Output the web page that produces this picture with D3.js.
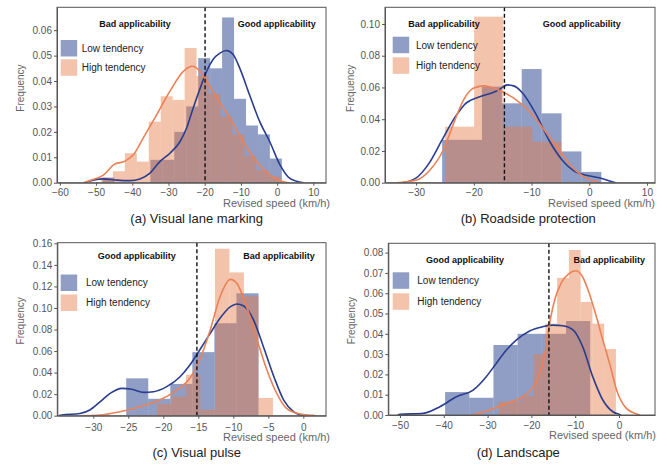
<!DOCTYPE html>
<html><head><meta charset="utf-8">
<script src="https://cdn.jsdelivr.net/npm/d3@7"></script>
<style>
body{margin:0;background:#fff}
svg{display:block;font-family:"Liberation Sans",Arial,sans-serif}
</style>
</head><body>
<svg id="chart" width="667" height="465"></svg>
<script>
// ---------- DATA ----------
const seriesNames = ["Low tendency", "High tendency"];
const leftLabels = ["Bad applicability", "Bad applicability", "Good applicability", "Good applicability"];
const rightLabels = ["Good applicability", "Good applicability", "Bad applicability", "Bad applicability"];
const captions = ["(a) Visual lane marking", "(b) Roadside protection", "(c) Visual pulse", "(d) Landscape"];
const thresholds = [-19.9, -14.7, -15.2, -16.0];

// (a) Visual lane marking
const aXTicks = [-60, -50, -40, -30, -20, -10, 0, 10];
const aYTicks = [0, 0.01, 0.02, 0.03, 0.04, 0.05, 0.06];
const aLowEdges = [-48.2, -44.9, -41.6, -38.3, -35.0, -31.7, -28.4, -25.1, -21.8, -18.5, -15.2, -11.9, -8.6, -5.3, -2.0, 1.3];
const aLowFreq = [0.002, 0, 0, 0, 0.009, 0.009, 0.020, 0.030, 0.049, 0.045, 0.065, 0.033, 0.0225, 0.019, 0.0095];
const aHighEdges = [-48.65, -45.35, -42.05, -38.75, -35.45, -32.15, -28.85, -25.55, -22.25, -18.95, -15.65, -12.35, -9.05, -5.75, -2.45, 0.85];
const aHighFreq = [0.002, 0.0045, 0.0116, 0.0083, 0.024, 0.034, 0.0326, 0.053, 0.042, 0.035, 0.026, 0.019, 0.0105, 0.005, 0.0025];
const aLowKde = [[-53,0],[-51.7,0.0007],[-48,0.0015],[-44.3,0.001],[-40.6,0.0008],[-37.9,0.0015],[-35.2,0.0037],[-32.4,0.0083],[-29.6,0.0116],[-26.9,0.016],[-25,0.0215],[-23.2,0.0293],[-21.3,0.037],[-19.5,0.0438],[-17.7,0.0485],[-15.8,0.051],[-14,0.052],[-12.2,0.0505],[-10.3,0.045],[-7.6,0.0345],[-4.8,0.024],[-2,0.016],[0.8,0.007],[3.5,0.0017],[7.3,0]];
const aHighKde = [[-53.5,0],[-51.5,0.001],[-48,0.003],[-45,0.0072],[-42,0.0085],[-39.7,0.011],[-37,0.0175],[-33.3,0.0267],[-29.6,0.036],[-25.9,0.0438],[-23.4,0.0458],[-21.3,0.0438],[-19.5,0.040],[-16.7,0.0333],[-13,0.0254],[-9.4,0.0162],[-5.7,0.0083],[-2,0.003],[1.7,0.0004],[3,0]];

// (b) Roadside protection
const bXTicks = [-30, -20, -10, 0, 10];
const bYTicks = [0, 0.02, 0.04, 0.06, 0.08, 0.10];
const bLowEdges = [-25.5, -22.05, -18.6, -15.15, -11.7, -8.25, -4.8, -1.35, 2.1];
const bLowFreq = [0.027, 0.027, 0.0605, 0.050, 0.0716, 0.0437, 0.0197, 0.0068];
const bHighEdges = [-25.0, -19.95, -14.9, -9.85, -4.8];
const bHighFreq = [0.0353, 0.1046, 0.0353, 0.0258];
const bLowKde = [[-32.4,0],[-30.1,0.0027],[-27.8,0.012],[-25.5,0.027],[-23.2,0.0416],[-21.4,0.05],[-19.1,0.054],[-16.8,0.0567],[-15.7,0.0584],[-14.2,0.0616],[-13.1,0.061],[-11.6,0.0567],[-9.3,0.0437],[-7.0,0.0269],[-4.7,0.0143],[-2.4,0.0069],[-0.1,0.0044],[2.2,0.0027],[4.0,0.0006],[4.6,0]];
const bHighKde = [[-33.4,0],[-29.9,0.0017],[-27.6,0.008],[-25.3,0.0206],[-23.5,0.0374],[-21.8,0.052],[-20.1,0.0595],[-18.1,0.061],[-16.1,0.0588],[-14.3,0.0559],[-12.6,0.052],[-10.3,0.0447],[-8.0,0.0342],[-5.6,0.0227],[-3.3,0.0111],[-1.0,0.0038],[1.3,0.0006],[2,0]];

// (c) Visual pulse
const cXTicks = [-30, -25, -20, -15, -10, -5, 0];
const cYTicks = [0, 0.02, 0.04, 0.06, 0.08, 0.10, 0.12, 0.14, 0.16];
const cLowEdges = [-25.3, -22.15, -19.0, -15.85, -12.7, -9.55, -6.4];
const cLowFreq = [0.0347, 0.0157, 0.0295, 0.059, 0.0858, 0.1136];
const cHighEdges = [-20.9, -18.83, -16.76, -14.69, -12.62, -10.55, -8.48, -6.41, -4.34];
const cHighFreq = [0.011, 0.0178, 0.038, 0.0055, 0.155, 0.133, 0.111, 0.0165];
const cLowKde = [[-35,0],[-34.5,0.0006],[-31.9,0.002],[-30.5,0.0053],[-29.0,0.013],[-27.6,0.0207],[-25.9,0.0254],[-24.5,0.0245],[-22.8,0.0217],[-21.4,0.0223],[-19.5,0.027],[-17.6,0.0362],[-16.2,0.047],[-14.8,0.061],[-13.3,0.0764],[-11.9,0.0904],[-10.4,0.1012],[-9.5,0.1037],[-8.5,0.1018],[-7.1,0.0888],[-5.7,0.064],[-4.2,0.0362],[-2.8,0.0145],[-1.4,0.0037],[-0.45,0.0006],[0,0]];
const cHighKde = [[-31.9,0],[-29,0.0006],[-26.2,0.0037],[-23.3,0.0084],[-20.5,0.0145],[-18.1,0.0238],[-16.2,0.0347],[-14.8,0.0517],[-13.3,0.0795],[-11.9,0.1105],[-10.4,0.1266],[-9.5,0.1229],[-8.1,0.1012],[-6.6,0.0703],[-5.2,0.0424],[-3.8,0.0207],[-2.4,0.0068],[-0.45,0.0015],[1.4,0.0003],[1.8,0]];

// (d) Landscape
const dXTicks = [-50, -40, -30, -20, -10, 0];
const dYTicks = [0, 0.01, 0.02, 0.03, 0.04, 0.05, 0.06, 0.07, 0.08];
const dLowEdges = [-39.7, -34.18, -28.66, -23.14, -17.62, -12.1, -6.58];
const dLowFreq = [0.0113, 0.0085, 0.0345, 0.040, 0.040, 0.0463];
const dHighEdges = [-27.55, -24.87, -22.18, -19.5, -16.81, -14.13, -11.44, -8.76, -6.07, -3.39, -0.7];
const dHighFreq = [0.0066, 0.0066, 0.0095, 0.030, 0.045, 0.0676, 0.0813, 0.0557, 0.045, 0.0325];
const dLowKde = [[-50.5,0],[-50,0.0003],[-44.7,0.0008],[-40.9,0.0041],[-37.1,0.009],[-33.3,0.0123],[-30.3,0.0189],[-28.0,0.0255],[-25.7,0.032],[-23.4,0.037],[-20.4,0.0414],[-17.4,0.0435],[-15.1,0.0443],[-12.8,0.044],[-10.5,0.0419],[-8.3,0.0337],[-6.0,0.0189],[-3.7,0.0074],[-1.4,0.0016],[0.1,0.0003],[0.5,0]];
const dHighKde = [[-33.5,0],[-29.5,0.0025],[-25.7,0.0057],[-22.3,0.0085],[-19.6,0.014],[-18,0.021],[-16.8,0.032],[-15.6,0.048],[-14.5,0.058],[-13.2,0.065],[-11.5,0.0695],[-9.8,0.0711],[-8.3,0.068],[-6.8,0.06],[-5.3,0.0495],[-3.7,0.037],[-2.1,0.025],[-0.5,0.012],[1.6,0.0035],[4.3,0.0003],[4.8,0]];

// ---------- STYLE / LAYOUT ----------
const blueFill = "rgb(14,44,130)", orangeFill = "rgb(231,125,72)", barOpacity = 0.46;
const blueLine = "#2a3d8f", orangeLine = "#ea8257";

const panels = [
  {box:{l:57, r:326, t:7.3, b:182.7}, xd:[-60.8, 13.5], yd:[0, 0.069], xt:aXTicks, yt:aYTicks, pad:3.5,
   low:[aLowEdges, aLowFreq], high:[aHighEdges, aHighFreq], lowKde:aLowKde, highKde:aHighKde,
   titles:[[135,27.2],[276.7,27.2]], leg:{x:60.7, y1:40, y2:59.3, tx:81.7}, cap:[196.7,222.7], xt_end:[330,206.5], ylab:[20.7,88]},
  {box:{l:385, r:655, t:7.3, b:182.7}, xd:[-35.4, 11.4], yd:[0, 0.1105], xt:bXTicks, yt:bYTicks, pad:3.5,
   low:[bLowEdges, bLowFreq], high:[bHighEdges, bHighFreq], lowKde:bLowKde, highKde:bHighKde,
   titles:[[444,27.2],[581.7,27.2]], leg:{x:392.7, y1:36.7, y2:57.3, tx:416}, cap:[528.3,222.7], xt_end:[655,206.5], ylab:[350.7,88.3]},
  {box:{l:57.3, r:326, t:242.7, b:415.7}, xd:[-35.14, 3.24], yd:[0, 0.1606], xt:cXTicks, yt:cYTicks, pad:5,
   low:[cLowEdges, cLowFreq], high:[cHighEdges, cHighFreq], lowKde:cLowKde, highKde:cHighKde,
   titles:[[136.7,259.2],[279,259.2]], leg:{x:60.7, y1:274.5, y2:294.5, tx:86}, cap:[196.7,456.5], xt_end:[330,440.5], ylab:[20.7,320.8]},
  {box:{l:388.3, r:655, t:243.3, b:415}, xd:[-52.67, 8.22], yd:[0, 0.0846], xt:dXTicks, yt:dYTicks, pad:3.5,
   low:[dLowEdges, dLowFreq], high:[dHighEdges, dHighFreq], lowKde:dLowKde, highKde:dHighKde,
   titles:[[465,262.5],[609.3,262.5]], leg:{x:392.7, y1:272.3, y2:293.3, tx:417.3}, cap:[518.3,457], xt_end:[656,439], ylab:[351.7,320.7]}
];

const svg = d3.select("#chart");

panels.forEach((p, i) => {
  const B = p.box;
  const x = d3.scaleLinear().domain(p.xd).range([B.l, B.r]);
  const y = d3.scaleLinear().domain(p.yd).range([B.b, B.t]);
  const g = svg.append("g");
  const clipId = "clip" + i;
  svg.append("clipPath").attr("id", clipId).append("rect")
    .attr("x", B.l).attr("y", B.t).attr("width", B.r - B.l).attr("height", B.b - B.t);
  const plot = g.append("g").attr("clip-path", `url(#${clipId})`);

  function bars(edges, freq, color) {
    const data = freq.map((f, k) => ({x0: edges[k], x1: edges[k + 1], f}));
    plot.append("g").selectAll("rect").data(data.filter(d => d.f > 0)).join("rect")
      .attr("x", d => x(d.x0)).attr("width", d => x(d.x1) - x(d.x0))
      .attr("y", d => y(d.f)).attr("height", d => y(0) - y(d.f))
      .attr("fill", color).attr("fill-opacity", barOpacity);
  }
  bars(p.low[0], p.low[1], blueFill);
  bars(p.high[0], p.high[1], orangeFill);

  const line = d3.line().x(d => x(d[0])).y(d => y(d[1])).curve(d3.curveMonotoneX);
  plot.append("path").datum(p.lowKde).attr("d", line).attr("fill", "none").attr("stroke", blueLine).attr("stroke-width", 1.6);
  plot.append("path").datum(p.highKde).attr("d", line).attr("fill", "none").attr("stroke", orangeLine).attr("stroke-width", 1.6);

  // threshold
  g.append("line").attr("x1", x(thresholds[i])).attr("x2", x(thresholds[i]))
    .attr("y1", B.t).attr("y2", B.b).attr("stroke", "#111").attr("stroke-width", 1.4).attr("stroke-dasharray", "4,2.5");

  // frame
  g.append("rect").attr("x", B.l).attr("y", B.t).attr("width", B.r - B.l).attr("height", B.b - B.t)
    .attr("fill", "none").attr("stroke", "#555").attr("stroke-width", 1);

  // axes
  const xa = g.append("g").attr("transform", `translate(0,${B.b})`)
    .call(d3.axisBottom(x).tickValues(p.xt).tickFormat(d3.format("d")).tickSize(3).tickSizeOuter(0).tickPadding(p.pad));
  const ya = g.append("g").attr("transform", `translate(${B.l},0)`)
    .call(d3.axisLeft(y).tickValues(p.yt).tickFormat(d3.format(".2f")).tickSize(3).tickSizeOuter(0).tickPadding(2));
  [xa, ya].forEach(a => {
    a.select(".domain").attr("stroke", "#555");
    a.selectAll(".tick line").attr("stroke", "#555");
    a.selectAll(".tick text").attr("fill", "#555").attr("font-size", "10px").attr("font-family", "Liberation Sans, Arial, sans-serif");
  });

  // axis titles
  g.append("text").attr("x", p.xt_end[0]).attr("y", p.xt_end[1]).attr("text-anchor", "end")
    .attr("font-size", "11px").attr("fill", "#666").text("Revised speed (km/h)");
  g.append("text").attr("transform", `translate(${p.ylab[0] + 3.5},${p.ylab[1]}) rotate(-90)`).attr("text-anchor", "middle")
    .attr("font-size", "10px").attr("fill", "#666").text("Frequency");

  // region titles
  g.append("text").attr("x", p.titles[0][0]).attr("y", p.titles[0][1]).attr("text-anchor", "middle")
    .attr("font-size", "9px").attr("font-weight", "bold").attr("fill", "#111").text(leftLabels[i]);
  g.append("text").attr("x", p.titles[1][0]).attr("y", p.titles[1][1]).attr("text-anchor", "middle")
    .attr("font-size", "9px").attr("font-weight", "bold").attr("fill", "#111").text(rightLabels[i]);

  // legend
  const L = p.leg, sq = 16.5;
  [[blueFill, L.y1, seriesNames[0]], [orangeFill, L.y2, seriesNames[1]]].forEach(([c, yy, name]) => {
    g.append("rect").attr("x", L.x).attr("y", yy).attr("width", sq).attr("height", sq)
      .attr("fill", c).attr("fill-opacity", barOpacity);
    g.append("text").attr("x", L.tx).attr("y", yy + sq / 2 + 3.6).attr("font-size", "10px").attr("fill", "#222").text(name);
  });

  // caption
  g.append("text").attr("x", p.cap[0]).attr("y", p.cap[1]).attr("text-anchor", "middle")
    .attr("font-size", "13px").attr("fill", "#222").text(captions[i]);
});
</script>
</body></html>
